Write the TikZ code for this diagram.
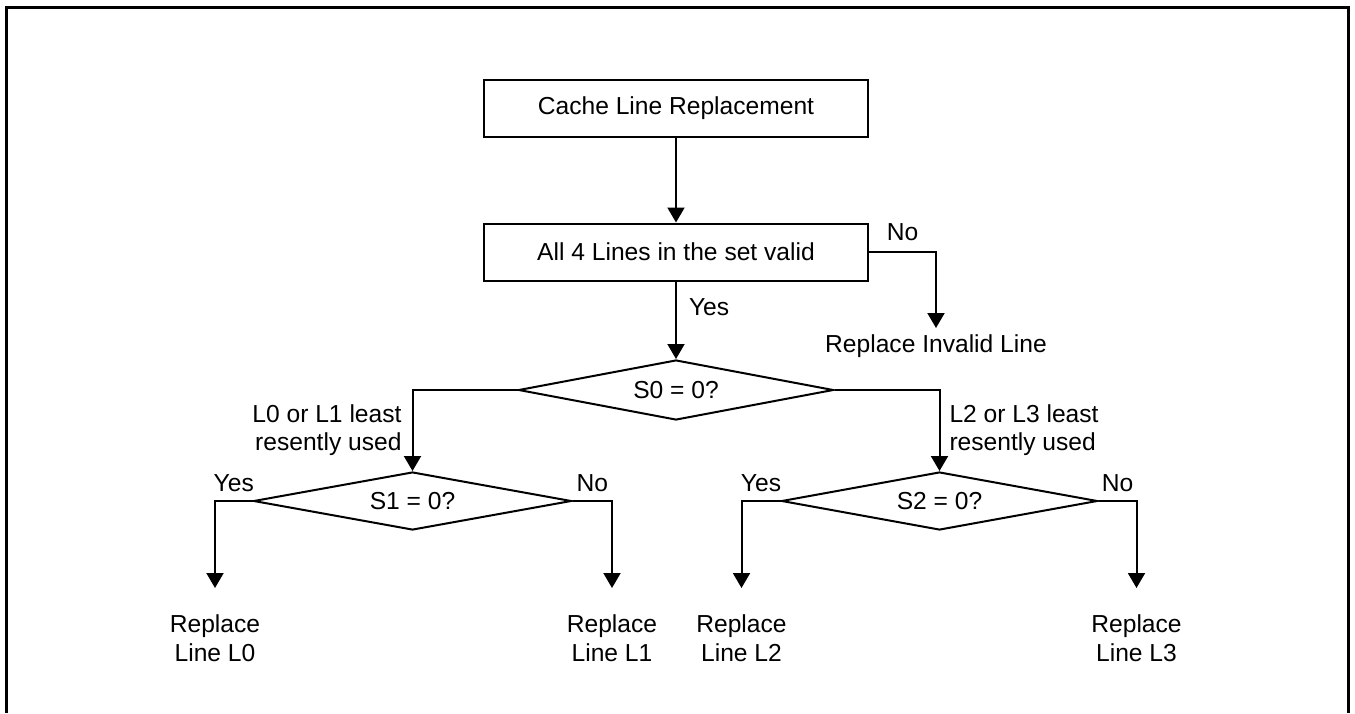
\documentclass[tikz,border=0pt]{standalone}
\usepackage{fontspec}
\setmainfont{Liberation Sans}
\usetikzlibrary{shapes.geometric,arrows.meta}

\begin{document}
\begin{tikzpicture}[x=0.5pt,y=-0.5pt,
  font=\fontsize{12.3}{14}\selectfont,
  box/.style={draw, line width=1pt, minimum width=192pt, minimum height=28.5pt, inner sep=0pt},
  decision/.style={draw, diamond, line width=1pt, shape aspect=5.4, inner sep=1pt, minimum height=29pt},
  flow/.style={line width=1pt, -{Triangle[length=7.5pt,width=8.5pt]}},
  outcome/.style={align=center, inner xsep=0pt, inner ysep=13pt, anchor=north, font=\fontsize{12.3}{14.5}\selectfont},
  tag/.style={inner sep=0pt}]
\useasboundingbox (0,0) rectangle (1355,713);
\draw[line width=1.5pt] (6.5,713) -- (6.5,7.5) -- (1348,7.5) -- (1348,713);

\node[box] (cache) at (676,108) {Cache Line Replacement};
\node[box] (valid) at (676,252) {All 4 Lines in the set valid};
\node[decision, minimum width=157.5pt, minimum height=30pt] (s0) at (676,390) {S0 = 0?};
\node[decision, minimum width=159pt] (s1) at (412.5,501) {S1 = 0?};
\node[decision, minimum width=158pt] (s2) at (939.5,501) {S2 = 0?};

\node[outcome, inner ysep=3pt] (invalid) at (936,328) {Replace Invalid Line};
\node[outcome] (rl0) at (215,588) {Replace\\Line L0};
\node[outcome] (rl1) at (612,588) {Replace\\Line L1};
\node[outcome] (rl2) at (741.5,588) {Replace\\Line L2};
\node[outcome] (rl3) at (1136.5,588) {Replace\\Line L3};

\draw[flow] (cache) -- (valid);
\draw[flow] (valid) -- node[tag, pos=0.33, right=6pt] {Yes} (s0);
\draw[flow] (valid.east) -| node[tag, pos=0.25, above=5pt] {No} (invalid.north);
\draw[flow] (s0.west) -| node[tag, pos=0.75, left=5pt, align=right] {L0 or L1 least\\resently used} (s1.north);
\draw[flow] (s0.east) -| node[tag, pos=0.75, right=4.5pt, align=left] {L2 or L3 least\\resently used} (s2.north);
\draw[flow] (s1.west) -| node[tag, pos=0.25, above=4pt] {Yes} (rl0.north);
\draw[flow] (s1.east) -| node[tag, pos=0.25, above=4pt] {No} (rl1.north);
\draw[flow] (s2.west) -| node[tag, pos=0.25, above=4pt] {Yes} (rl2.north);
\draw[flow] (s2.east) -| node[tag, pos=0.25, above=4pt] {No} (rl3.north);
\end{tikzpicture}
\end{document}
